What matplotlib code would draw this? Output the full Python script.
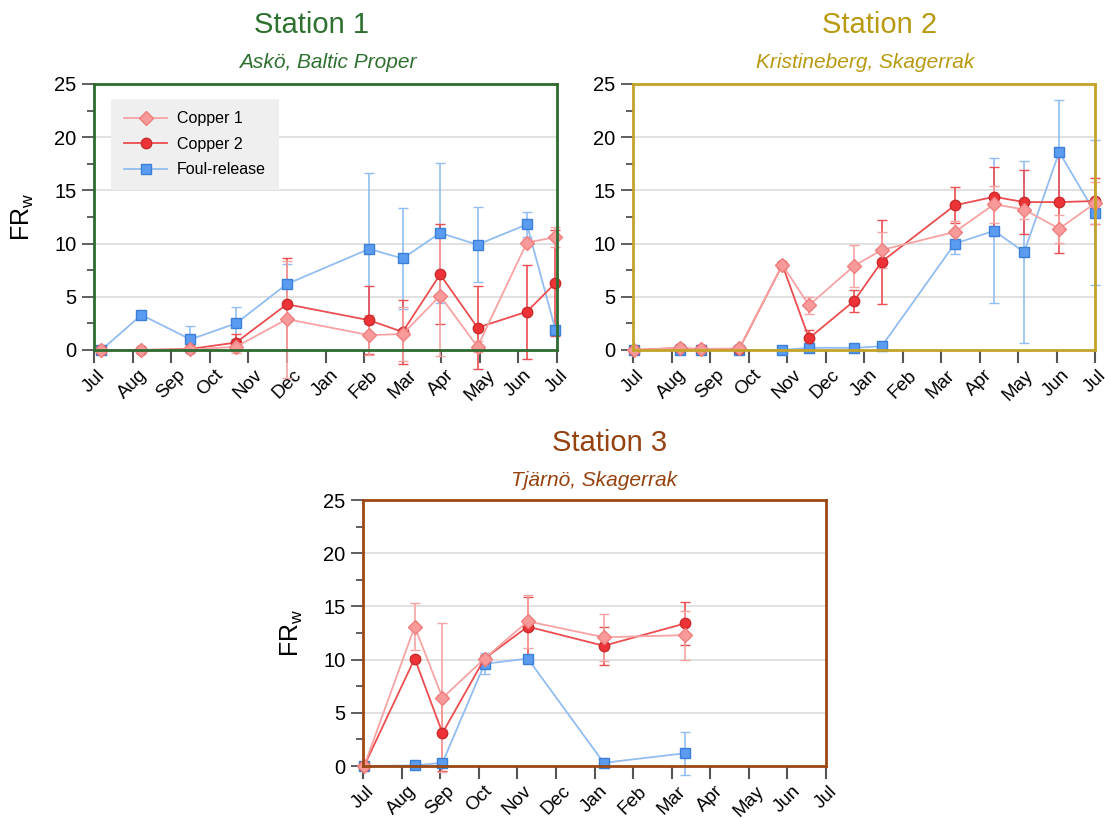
import matplotlib
matplotlib.use("Agg")
import matplotlib.pyplot as plt
from matplotlib.ticker import MultipleLocator
from matplotlib.lines import Line2D

plt.rcParams['font.family'] = ['Liberation Sans', 'DejaVu Sans']

months = ['Jul', 'Aug', 'Sep', 'Oct', 'Nov', 'Dec', 'Jan',
          'Feb', 'Mar', 'Apr', 'May', 'Jun', 'Jul']

# x = months since 1 July
# Station 1 - Askö
s1_x = [0.19, 1.23, 2.50, 3.68, 5.00, 7.13, 8.00, 8.97, 9.94, 11.22, 11.96]
s1_cu1 = [0, 0, 0.05, 0.3, 2.9, 1.4, 1.5, 5.1, 0.3, 10.1, 10.6]
s1_cu1_err = [0, 0, 0.1, 0.6, 5.5, 1.9, 2.5, 5.7, 0.5, 0.3, 0.95]
s1_cu2 = [0, 0, 0.1, 0.7, 4.3, 2.8, 1.7, 7.1, 2.1, 3.6, 6.3]
s1_cu2_err = [0, 0, 0.1, 0.8, 4.3, 3.2, 3.0, 4.7, 3.9, 4.4, 5.0]
s1_fr = [0, 3.3, 1.0, 2.5, 6.2, 9.5, 8.6, 11.0, 9.9, 11.8, 1.9]
s1_fr_err = [0, 0.4, 1.3, 1.5, 1.9, 7.1, 4.7, 6.6, 3.5, 1.2, 0.3]

# Station 2 - Kristineberg
s2_x = [0.02, 1.22, 1.76, 2.76, 3.88, 4.57, 5.74, 6.46, 8.36, 9.38, 10.16, 11.07, 12.0]
s2_cu1 = [0, 0.2, 0.1, 0.15, 8.0, 4.2, 7.9, 9.4, 11.1, 13.7, 13.2, 11.4, 13.8]
s2_cu1_err = [0, 0.1, 0.1, 0.1, 0.1, 0.8, 2.0, 1.7, 1.0, 1.75, 0.9, 1.3, 2.0]
s2_cu2 = [0, 0.2, 0.05, 0.1, 8.0, 1.1, 4.6, 8.3, 13.6, 14.4, 13.9, 13.9, 14.0]
s2_cu2_err = [0, 0.1, 0.05, 0.1, 0.1, 0.8, 1.0, 3.95, 1.7, 2.8, 3.0, 4.8, 2.2]
s2_fr_x = [0.02, 1.22, 1.76, 2.76, 3.88, 4.57, 5.74, 6.46, 8.36, 9.38, 10.16, 11.07, 12.0]
s2_fr = [0, 0, 0, 0, 0, 0.2, 0.2, 0.35, 10.0, 11.2, 9.2, 18.6, 12.9]
s2_fr_err = [0, 0, 0, 0, 0, 0.1, 0.1, 0.1, 1.0, 6.8, 8.55, 4.9, 6.8]

# Station 3 - Tjärnö
s3_x = [0.03, 1.34, 2.06, 3.15, 4.27, 6.24, 8.35]
s3_cu1 = [0, 13.1, 6.4, 10.1, 13.6, 12.1, 12.3]
s3_cu1_err = [0, 2.2, 7.0, 0.3, 2.5, 2.2, 2.3]
s3_cu2 = [0, 10.1, 3.1, 10.1, 13.1, 11.3, 13.4]
s3_cu2_err = [0, 0.2, 3.6, 0.3, 2.8, 1.8, 2.0]
s3_fr = [0, 0.05, 0.3, 9.6, 10.1, 0.3, 1.2]
s3_fr_err = [0, 0.05, 0.2, 1.0, 0.3, 0.4, 2.0]

stations = [
    ('Station 1', 'Askö, Baltic Proper', '#2e6b2e', '#2e7030',
     s1_x, s1_cu1, s1_cu1_err, s1_cu2, s1_cu2_err, s1_x, s1_fr, s1_fr_err),
    ('Station 2', 'Kristineberg, Skagerrak', '#c4a328', '#b89a10',
     s2_x, s2_cu1, s2_cu1_err, s2_cu2, s2_cu2_err, s2_fr_x, s2_fr, s2_fr_err),
    ('Station 3', 'Tjärnö, Skagerrak', '#9a4814', '#954210',
     s3_x, s3_cu1, s3_cu1_err, s3_cu2, s3_cu2_err, s3_x, s3_fr, s3_fr_err),
]

W, H = 1105, 818
fig = plt.figure(figsize=(W / 100, H / 100), dpi=100)

# axes boxes in pixels: left, right, top, bottom
boxes = [(94, 557, 84, 350), (633, 1095, 84, 350), (363, 826, 500, 766)]
# title centres in pixels
title_pos = [((311, 25), (328, 63)), ((880, 25), (865, 63)), ((610, 443), (594, 481))]

cu1_style = dict(color='#f7a3a3', marker='D', ms=7, mfc='#f99a9a', mec='#ef7f7f')
cu2_style = dict(color='#eb4d50', marker='o', ms=7.5, mfc='#ee3338', mec='#c92a2a')
fr_style = dict(color='#92bdf2', marker='s', ms=6.5, mfc='#5b9cf0', mec='#3b7fd8')


def draw_series(ax, x, y, err, style):
    c = ax.errorbar(x, y, yerr=err, lw=1.3, elinewidth=1.2, capsize=3.5,
                    ecolor=style['color'], **style)
    c.lines[0].set_clip_on(False)
    for cap in c.lines[1]:
        cap.set_clip_on(False)
    for bar in c.lines[2]:
        bar.set_clip_on(False)


for i, st in enumerate(stations):
    name, place, frame_col, text_col, x, cu1, cu1e, cu2, cu2e, frx, fr, fre = st
    l, r, t, b = boxes[i]
    ax = fig.add_axes([l / W, 1 - b / H, (r - l) / W, (b - t) / H])

    draw_series(ax, frx, fr, fre, fr_style)
    draw_series(ax, x, cu2, cu2e, cu2_style)
    draw_series(ax, x, cu1, cu1e, cu1_style)

    ax.set_xlim(0, 12)
    ax.set_ylim(0, 25)
    ax.set_xticks(range(13))
    ax.set_xticklabels(months, rotation=45, fontsize=13.5)
    ax.yaxis.set_major_locator(MultipleLocator(5))
    ax.yaxis.set_minor_locator(MultipleLocator(2.5))
    ax.tick_params(axis='y', which='major', length=9, width=1.2, color='#444444',
                   labelsize=14.5, direction='out')
    ax.tick_params(axis='y', which='minor', length=5, width=1.2, color='#444444',
                   direction='out')
    ax.tick_params(axis='x', length=9, width=1.5, color='#555555', pad=3, direction='out')
    for sp in ax.spines.values():
        sp.set_color(frame_col)
        sp.set_linewidth(2)
    for g in [5, 10, 15, 20]:
        ax.axhline(g, color='#dcdcdc', lw=1.2, zorder=0)

    (tx, ty), (sx, sy) = title_pos[i]
    fig.text(tx / W, 1 - ty / H, name, color=text_col, fontsize=21,
             ha='center', va='center')
    fig.text(sx / W, 1 - sy / H, place, color=text_col, fontsize=15,
             style='italic', ha='center', va='center')

    if i != 1:
        ax.set_ylabel(r'FR$_\mathregular{w}$', fontsize=18)
        ax.yaxis.set_label_coords(-0.125, 0.5)

    if i == 0:
        handles = [Line2D([], [], lw=1.3, label='Copper 1', **cu1_style),
                   Line2D([], [], lw=1.3, label='Copper 2', **cu2_style),
                   Line2D([], [], lw=1.3, label='Foul-release', **fr_style)]
        leg = ax.legend(handles=handles, loc='upper left',
                        bbox_to_anchor=(0.02, 0.975), fontsize=11.5,
                        frameon=True, fancybox=False, handlelength=2.7,
                        borderpad=0.8, labelspacing=0.65, handletextpad=0.6)
        leg.get_frame().set_facecolor('#efefef')
        leg.get_frame().set_edgecolor('none')
        leg.get_frame().set_alpha(1)

fig.savefig('out.png', dpi=100)
